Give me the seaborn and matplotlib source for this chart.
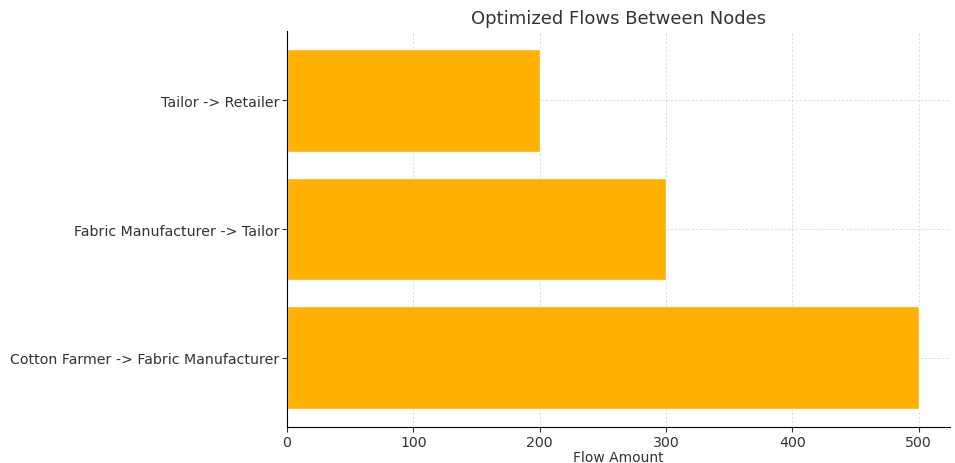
import pandas as pd
import seaborn as sns
import matplotlib
matplotlib.use('Agg')
import matplotlib.pyplot as plt

routes = ['Tailor -> Retailer', 'Fabric Manufacturer -> Tailor', 'Cotton Farmer -> Fabric Manufacturer']
flows = [200, 300, 500]

df = pd.DataFrame({'route': routes, 'flow': flows})

sns.set_style('ticks')
plt.rcParams['font.family'] = ['DejaVu Sans']

fig = plt.figure(figsize=(9.55, 4.64), dpi=100)
ax = fig.add_axes([0.3005, 0.0776, 0.6945, 0.8534])

sns.barplot(data=df, y='route', x='flow', orient='h', color='#FFB000',
            saturation=1, width=0.8, ax=ax, zorder=2)

ax.set_xlim(0, 525)
ax.set_ylim(2.54, -0.54)
ax.grid(True, linestyle=(0, (3, 2)), color='#d8d8d8', linewidth=0.6, zorder=0)
ax.set_axisbelow(True)

ax.set_title('Optimized Flows Between Nodes', fontsize=13, color='#333333')
ax.set_xlabel('Flow Amount', fontsize=10, color='#333333', labelpad=1)
ax.set_ylabel('')
ax.tick_params(labelsize=10.2, labelcolor='#333333', length=3.5, color='#333333', pad=2)

ax.spines['top'].set_visible(False)
ax.spines['right'].set_visible(False)
ax.spines['left'].set_color('black')
ax.spines['bottom'].set_color('black')

fig.savefig('out.png', dpi=100)
